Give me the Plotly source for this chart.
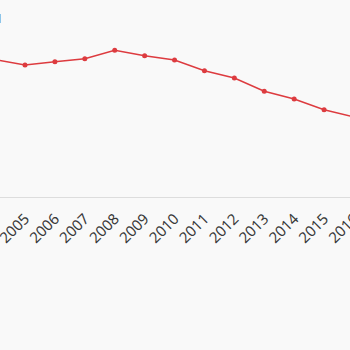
import plotly.graph_objects as go

years = [2004, 2005, 2006, 2007, 2008, 2009, 2010, 2011, 2012, 2013, 2014, 2015, 2016]
values = [69.8, 67.0, 68.7, 70.2, 74.5, 71.7, 69.5, 64.1, 60.4, 53.7, 49.7, 44.3, 40.6]
tick_labels = [str(y) for y in years]

fig = go.Figure()
fig.add_trace(go.Scatter(
    x=years, y=values, mode="lines+markers",
    line=dict(color="#dd3b3f", width=1.5),
    marker=dict(color="#dd3b3f", size=5),
    cliponaxis=True, hoverinfo="skip",
))

fig.update_layout(
    autosize=False,
    width=380, height=350,
    margin=dict(l=0, r=0, t=0, b=153, autoexpand=False),
    paper_bgcolor="#f9f9f9", plot_bgcolor="#f9f9f9",
    showlegend=False,
    font=dict(family="Noto Sans, DejaVu Sans, sans-serif", color="#444444"),
    xaxis=dict(
        range=[2004.164, 2016.87], tickmode="array", tickvals=years, ticktext=tick_labels,
        tickangle=-45, tickfont=dict(size=15, color="#3a3a3a"),
        ticklabeloverflow="allow", automargin=False, ticklabelstandoff=6,
        showgrid=False, zeroline=False, showline=True, linecolor="#dddddd", linewidth=1,
        ticks="", fixedrange=True,
    ),
    yaxis=dict(range=[0, 100], visible=False, showgrid=False, zeroline=False, fixedrange=True),
    annotations=[dict(
        text="1", xref="paper", yref="paper", x=0, y=1, yshift=-18, xshift=5,
        xanchor="right", yanchor="middle", showarrow=False,
        font=dict(size=12, color="#555555"),
    )],
)

fig.write_html(
    "out.html",
    config={"displayModeBar": False},
    post_script="document.documentElement.style.overflow='hidden';document.body.style.overflow='hidden';document.body.style.margin='0';",
)
